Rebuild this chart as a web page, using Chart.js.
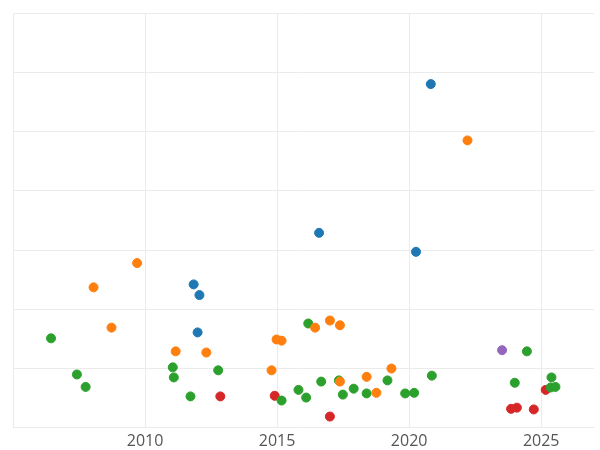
<!DOCTYPE html>
<html>
<head>
<meta charset="utf-8">
<script src="https://cdn.jsdelivr.net/npm/chart.js@4"></script>
<style>
  html, body { margin: 0; padding: 0; background: #fff; }
  #wrap { width: 600px; height: 450px; }
</style>
</head>
<body>
<div id="wrap"><canvas id="chart"></canvas></div>
<script>
// values: [year, value]
const blueSeries = [[2020.82, 5.80], [2016.59, 3.29], [2020.26, 2.97], [2011.84, 2.42], [2012.06, 2.24], [2011.99, 1.61]];
const orangeSeries = [[2022.21, 4.85], [2009.70, 2.78], [2008.05, 2.37], [2008.73, 1.69], [2011.16, 1.29], [2012.32, 1.27],
  [2014.98, 1.49], [2015.17, 1.47], [2014.79, 0.97], [2016.44, 1.69], [2017.0, 1.81], [2017.38, 1.73],
  [2018.39, 0.86], [2018.76, 0.59], [2019.33, 1.0], [2017.38, 0.78]];
const greenSeries = [[2006.44, 1.51], [2007.42, 0.90], [2007.75, 0.69], [2011.05, 1.02], [2011.09, 0.85], [2011.72, 0.53],
  [2012.77, 0.97], [2015.17, 0.46], [2015.81, 0.64], [2016.10, 0.51], [2016.18, 1.76], [2016.67, 0.78],
  [2017.34, 0.80], [2017.49, 0.56], [2017.90, 0.66], [2018.39, 0.58], [2019.18, 0.80], [2019.85, 0.58],
  [2020.19, 0.59], [2020.86, 0.88], [2024.46, 1.29], [2024.0, 0.76], [2025.39, 0.85], [2025.36, 0.68], [2025.54, 0.69]];
const redSeries = [[2012.85, 0.53], [2014.91, 0.54], [2017.0, 0.19], [2023.86, 0.32], [2024.08, 0.34], [2024.72, 0.31], [2025.17, 0.64]];
const purpleSeries = [[2023.52, 1.31]];
const xTicks = [2005, 2010, 2015, 2020, 2025];

const toPts = arr => arr.map(([x, y]) => ({ x, y }));
const mk = (data, color) => ({ data: toPts(data), backgroundColor: color, borderColor: color, pointRadius: 4.5, pointHoverRadius: 5 });

new Chart(document.getElementById("chart"), {
  type: "scatter",
  data: {
    datasets: [
      mk(blueSeries, "#1f77b4"),
      mk(orangeSeries, "#ff7f0e"),
      mk(greenSeries, "#2ca02c"),
      mk(redSeries, "#d62728"),
      mk(purpleSeries, "#9467bd"),
    ],
  },
  options: {
    responsive: true,
    maintainAspectRatio: false,
    animation: false,
    layout: { padding: { left: 13, top: 13, right: -6, bottom: -5 } },
    plugins: { legend: { display: false }, tooltip: { enabled: false } },
    scales: {
      x: {
        type: "linear",
        min: 2005,
        max: 2027,
        afterBuildTicks: axis => { axis.ticks = xTicks.map(v => ({ value: v })); },
        border: { display: false },
        grid: { color: "#ebebeb", drawTicks: false },
        ticks: {
          padding: 4,
          color: "#555",
          font: { size: 16, family: "Open Sans" },
          callback: v => (v === 2005 ? "" : String(v)),
        },
      },
      y: {
        min: 0,
        max: 7,
        border: { display: false },
        grid: { color: "#ebebeb", drawTicks: false },
        ticks: { stepSize: 1, display: false },
      },
    },
  },
});
</script>
</body>
</html>
